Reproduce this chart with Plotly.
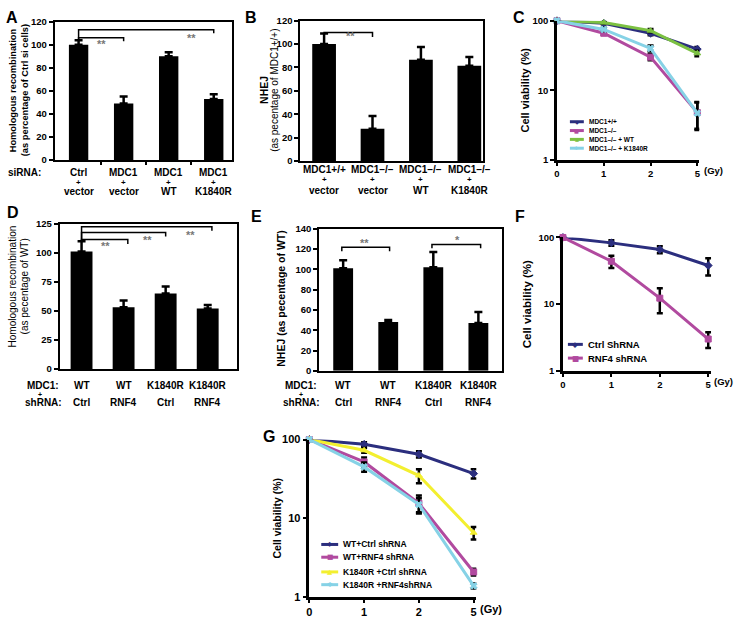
import plotly.graph_objects as go

W, H = 736, 625
FONT = "Liberation Sans"


def fx(p):
    return p / W


def fy(p):
    return 1 - p / H


# ---------------- DATA ----------------
A_labels = [["Ctrl", "+", "vector"], ["MDC1", "+", "vector"], ["MDC1", "+", "WT"], ["MDC1", "+", "K1840R"]]
A_values = [100, 49, 90, 53]
A_err = [4, 6, 3.5, 4]

B_labels = [["MDC1+/+", "+", "vector"], ["MDC1–/–", "+", "vector"], ["MDC1–/–", "+", "WT"], ["MDC1–/–", "+", "K1840R"]]
B_values = [100, 27.5, 86.5, 81.5]
B_err = [9, 11, 11, 7.5]

D_mdc1 = ["WT", "WT", "K1840R", "K1840R"]
D_shrna = ["Ctrl", "RNF4", "Ctrl", "RNF4"]
D_values = [101, 53, 65, 52]
D_err = [9, 6, 6, 3]

E_mdc1 = ["WT", "WT", "K1840R", "K1840R"]
E_shrna = ["Ctrl", "RNF4", "Ctrl", "RNF4"]
E_values = [101, 48, 102, 47]
E_err = [8, 2, 15, 11]

dose_labels = ["0", "1", "2", "5"]

C_names = ["MDC1+/+", "MDC1–/–", "MDC1–/– + WT", "MDC1–/– + K1840R"]
C_values = [
    [100, 92, 66, 39],
    [100, 66, 30, 4.8],
    [100, 94, 72, 34],
    [100, 75, 40, 4.7],
]
C_err = [
    [0, 3, 4, 3],
    [0, 3, 3, 2],
    [0, 3, 4, 3],
    [0, 4, 4, 2],
]

F_names = ["Ctrl ShRNA", "RNF4 shRNA"]
F_values = [
    [100, 83, 66, 38],
    [100, 44, 12.3, 3.0],
]
F_err = [
    [0, 8, 8, 11],
    [0, 9, 5, 0.8],
]

G_names = ["WT+Ctrl shRNA", "WT+RNF4 shRNA", "K1840R +Ctrl shRNA", "K1840R +RNF4shRNA"]
G_values = [
    [100, 87, 65, 37],
    [100, 52, 15.6, 2.1],
    [100, 73, 35, 6.6],
    [100, 45, 15, 1.4],
]
G_err = [
    [0, 5, 6, 5],
    [0, 7, 4, 0.2],
    [0, 5, 7, 1.2],
    [0, 6, 3, 0.1],
]

# ---------------- STYLE ----------------
NAVY = "#2b2e7e"
MAGENTA = "#b14a9f"
GREEN = "#7cc142"
LBLUE = "#86d2e6"
YELLOW = "#f3ef2f"

C_colors = [NAVY, MAGENTA, GREEN, LBLUE]
C_symbols = ["diamond", "square", "triangle-up", "x"]
F_colors = [NAVY, MAGENTA]
F_symbols = ["diamond", "square"]
G_colors = [NAVY, MAGENTA, YELLOW, LBLUE]
G_symbols = ["diamond", "square", "triangle-up", "x"]
GLYPH = {"diamond": "◆", "square": "■", "triangle-up": "▲", "x": "✱"}

fig = go.Figure()
layout = dict(
    width=W, height=H, margin=dict(l=0, r=0, t=0, b=0),
    paper_bgcolor="white", plot_bgcolor="white", showlegend=False,
    font=dict(family=FONT, color="black"),
)
annotations = []
shapes = []


def ann(x, y, text, size=10, bold=True, xanchor="center", yanchor="middle", xref="paper", yref="paper",
        angle=0, color="black", family=FONT):
    annotations.append(dict(
        x=x, y=y, xref=xref, yref=yref, text=text, showarrow=False,
        xanchor=xanchor, yanchor=yanchor, textangle=angle,
        font=dict(family=family, size=size, color=color, weight="bold" if bold else "normal"),
    ))


def bar_panel(idx, values, err, xdom, ydom, xrange, yrange, dtick, bwidth, boundary_ticks=False):
    xa = "x" if idx == 1 else f"x{idx}"
    ya = "y" if idx == 1 else f"y{idx}"
    fig.add_trace(go.Bar(
        x=list(range(len(values))), y=values, width=bwidth,
        marker=dict(color="black", line=dict(width=0)),
        error_y=dict(type="data", symmetric=False, array=err, arrayminus=[0] * len(err),
                     color="black", thickness=2.5, width=4),
        xaxis=xa, yaxis=ya,
    ))
    xkey = "xaxis" if idx == 1 else f"xaxis{idx}"
    ykey = "yaxis" if idx == 1 else f"yaxis{idx}"
    layout[xkey] = dict(
        domain=[fx(xdom[0]), fx(xdom[1])], range=xrange, anchor=ya,
        showline=True, mirror=True, linecolor="black", linewidth=2,
        showgrid=False, zeroline=False, showticklabels=False,
        tickvals=[0.5, 1.5, 2.5] if boundary_ticks else [],
        ticks="outside" if boundary_ticks else "", ticklen=3, tickwidth=2, tickcolor="black",
    )
    layout[ykey] = dict(
        domain=[fy(ydom[1]), fy(ydom[0])], range=yrange, anchor=xa,
        showline=True, mirror=True, linecolor="black", linewidth=2,
        showgrid=False, zeroline=False, dtick=dtick, tick0=0,
        ticks="outside", ticklen=4, tickwidth=2, tickcolor="black",
        tickfont=dict(family=FONT, size=9.5, weight="bold"),
    )
    return xa, ya


def line_panel(idx, names, values, errs, colors, symbols, xdom, ydom, xrange, tsize):
    xa = f"x{idx}"
    ya = f"y{idx}"
    for name, vals, e, c, s in zip(names, values, errs, colors, symbols):
        fig.add_trace(go.Scatter(
            x=list(range(len(vals))), y=vals, name=name, mode="lines+markers",
            line=dict(color=c, width=3),
            marker=dict(symbol=s, size=6, color=c, line=dict(width=1, color=c)),
            error_y=dict(type="data", array=e, color="black", thickness=2.5, width=3),
            cliponaxis=False, xaxis=xa, yaxis=ya,
        ))
    layout[f"xaxis{idx}"] = dict(
        domain=[fx(xdom[0]), fx(xdom[1])], range=xrange, anchor=ya,
        showline=True, linecolor="black", linewidth=2.5, showgrid=False, zeroline=False,
        tickvals=list(range(len(dose_labels))), ticktext=dose_labels,
        ticks="outside", ticklen=3, tickwidth=2, tickcolor="black",
        tickfont=dict(family=FONT, size=tsize, weight="bold"),
    )
    layout[f"yaxis{idx}"] = dict(
        domain=[fy(ydom[1]), fy(ydom[0])], type="log", range=[0, 2], anchor=xa,
        showline=True, linecolor="black", linewidth=2.5, showgrid=False, zeroline=False,
        tickvals=[1, 10, 100], ticktext=["1", "10", "100"],
        ticks="outside", ticklen=4, tickwidth=2, tickcolor="black",
        tickfont=dict(family=FONT, size=tsize, weight="bold"),
    )
    return xa, ya


def bracket(xa, ya, x0, x1, ytop, yl, yr):
    shapes.append(dict(
        type="path", xref=xa, yref=ya,
        path=f"M {x0},{yl} L {x0},{ytop} L {x1},{ytop} L {x1},{yr}",
        line=dict(color="black", width=1.5),
    ))


def manual_legend(names, colors, symbols, x0, x1, xt, rows, size):
    for n, c, s, r in zip(names, colors, symbols, rows):
        shapes.append(dict(type="line", xref="paper", yref="paper",
                           x0=fx(x0), x1=fx(x1), y0=fy(r), y1=fy(r),
                           line=dict(color=c, width=3)))
        ann(fx((x0 + x1) / 2), fy(r), GLYPH[s], size=size * 0.8, bold=False, color=c,
            family="DejaVu Sans")
        ann(fx(xt), fy(r), n, size=size, xanchor="left")


# ---------------- PANEL A ----------------
xa, ya = bar_panel(1, A_values, A_err, (52, 230), (16, 157), [-0.53, 3.4], [0, 120], 20, 0.43,
                   boundary_ticks=True)
bracket(xa, ya, 0, 1, 106, 104, 103)
bracket(xa, ya, 0, 3, 113, 104, 110)
ann(0.5, 101, "**", size=11, xref=xa, yref=ya, color="#777")
ann(2.5, 106, "**", size=11, xref=xa, yref=ya, color="#777")
ann(fx(10), fy(86), "Homologous recombination", size=9.3, angle=-90)
ann(fx(22), fy(86), "(as percentage of Ctrl si cells)", size=9.3, angle=-90)
ann(fx(22), fy(170), "siRNA:", size=10)
for i, lab in enumerate(A_labels):
    for txt, r, sz in zip(lab, [170, 179.5, 189.5], [10, 8, 10]):
        ann(i, fy(r), txt, size=sz, xref=xa)

# ---------------- PANEL B ----------------
xa, ya = bar_panel(2, B_values, B_err, (299, 483), (15, 158), [-0.49, 3.29], [0, 120], 20, 0.49)
bracket(xa, ya, 0, 1, 110, 108, 106)
ann(0.55, 106.5, "**", size=11, xref=xa, yref=ya, color="#777")
ann(fx(263), fy(86), "NHEJ", size=10.5, angle=-90)
ann(fx(273), fy(86), "(as pecentage of MDC1+/+)", size=10, bold=False, angle=-90)
for i, lab in enumerate(B_labels):
    for txt, r, sz in zip(lab, [167, 177, 188], [10, 8, 10]):
        ann(i, fy(r), txt, size=sz, xref=xa)

# ---------------- PANEL C ----------------
xa, ya = line_panel(3, C_names, C_values, C_err, C_colors, C_symbols, (557, 700), (15, 157), [0, 3.04], 9.5)
ann(fx(703), fy(168), "(Gy)", size=9.5, xanchor="left")
ann(fx(525), fy(86), "Cell viability (%)", size=11, angle=-90)
manual_legend(C_names, C_colors, C_symbols, 570, 584, 587, [118, 127, 136, 145], 6.5)

# ---------------- PANEL D ----------------
xa, ya = bar_panel(4, D_values, D_err, (57, 235), (222, 370), [-0.52, 3.69], [0, 125], 25, 0.52)
bracket(xa, ya, 0, 3.1, 122.5, 110, 119)
bracket(xa, ya, 0, 2.0, 117.4, 110, 114)
bracket(xa, ya, 0, 1.1, 111.5, 110, 107.5)
ann(0.57, 105.5, "**", size=11, xref=xa, yref=ya, color="#777")
ann(1.57, 111, "**", size=11, xref=xa, yref=ya, color="#777")
ann(2.6, 115.5, "**", size=11, xref=xa, yref=ya, color="#777")
ann(fx(10), fy(286), "Homologous recombination", size=10, bold=False, angle=-90)
ann(fx(22), fy(286), "(as pecentage of WT)", size=10, bold=False, angle=-90)
ann(fx(40), fy(387), "MDC1:", size=10)
ann(fx(37), fy(396), "+", size=7)
ann(fx(41), fy(404), "shRNA:", size=10)
for i, (m, s) in enumerate(zip(D_mdc1, D_shrna)):
    ann(i, fy(387), m, size=10, xref=xa)
    ann(i, fy(404), s, size=10, xref=xa)

# ---------------- PANEL E ----------------
xa, ya = bar_panel(5, E_values, E_err, (318, 502), (227, 372), [-0.53, 3.53], [0, 140], 20, 0.44)
bracket(xa, ya, -0.03, 1.03, 121.6, 117.8, 117.8)
bracket(xa, ya, 1.97, 3.05, 124.5, 120.6, 120.6)
ann(0.47, 125.5, "**", size=11, xref=xa, yref=ya, color="#777")
ann(2.53, 128.5, "*", size=11, xref=xa, yref=ya, color="#777")
ann(fx(280), fy(298), "NHEJ (as pecentage of WT)", size=10.5, angle=-90)
ann(fx(300), fy(387), "MDC1:", size=10)
ann(fx(300), fy(396), "+", size=7)
ann(fx(300), fy(404), "shRNA:", size=10)
for i, (m, s) in enumerate(zip(E_mdc1, E_shrna)):
    ann(i, fy(387), m, size=10, xref=xa)
    ann(i, fy(404), s, size=10, xref=xa)

# ---------------- PANEL F ----------------
xa, ya = line_panel(6, F_names, F_values, F_err, F_colors, F_symbols, (563, 712), (236, 372), [0, 3.06], 9.5)
ann(fx(713), fy(383), "(Gy)", size=9.5, xanchor="left")
ann(fx(527), fy(304), "Cell viability (%)", size=11.5, angle=-90)
manual_legend(F_names, F_colors, F_symbols, 568, 583, 586, [345, 359], 9.5)

# ---------------- PANEL G ----------------
xa, ya = line_panel(7, G_names, G_values, G_err, G_colors, G_symbols, (308, 476), (442, 603), [0, 3.05], 11)
ann(fx(478), fy(615), "(Gy)", size=11, xanchor="left")
ann(fx(275), fy(522), "Cell viability (%)", size=10.5, angle=-90)
manual_legend(G_names, G_colors, G_symbols, 320, 337, 340, [549, 562, 577, 590], 8.5)

# ---------------- PANEL LETTERS ----------------
for letter, (px, py) in zip("ABCDEFG", [(9, 12), (249, 12), (519, 12), (10, 211), (255, 215), (520, 215), (267, 439)]):
    ann(fx(px), fy(py), letter, size=16)

layout["annotations"] = annotations
layout["shapes"] = shapes
fig.update_layout(**layout)
fig.write_html(
    "out.html",
    config={"displayModeBar": False},
    post_script="document.body.style.margin='0px';document.body.style.padding='0px';",
)
